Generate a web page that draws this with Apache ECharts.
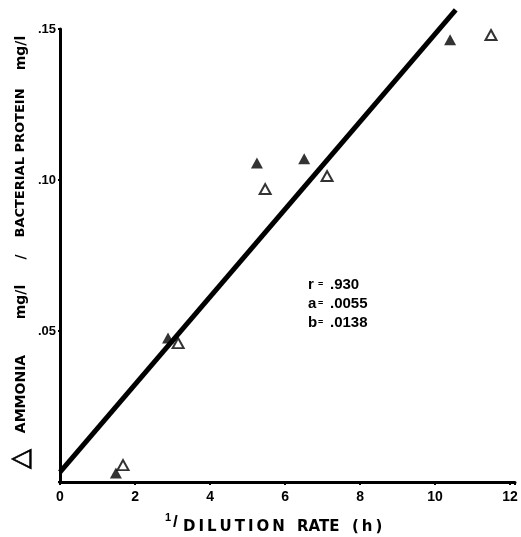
<!DOCTYPE html>
<html><head><meta charset="utf-8">
<script src="https://cdn.jsdelivr.net/npm/echarts@6/dist/echarts.min.js"></script>
<style>html,body{margin:0;padding:0;background:#fff}#c{width:521px;height:537px}</style>
</head><body><div id="c"></div>
<script>
var filledX = [1.49, 2.88, 5.25, 6.51, 10.4];
var filledY = [0.003, 0.0477, 0.1056, 0.107, 0.1464];
var openX = [1.68, 3.15, 5.47, 7.12, 11.49];
var openY = [0.0056, 0.046, 0.097, 0.1013, 0.148];
var fitX = [0, 10.55];
var fitY = [0.0033, 0.1563];
var xTicks = [0, 2, 4, 6, 8, 10, 12];
var yTickLabels = {'0.05': '.05', '0.1': '.10', '0.15': '.15'};
var statNames = ['r', 'a', 'b'];
var statValues = ['.930', '.0055', '.0138'];
var yTitleParts = ['△', 'AMMONIA', 'mg/l', '/', 'BACTERIAL PROTEIN', 'mg/l'];
var xTitleParts = ['1', '/', 'D\u2009I\u2009L\u2009U\u2009T\u2009I\u2009O\u2009N', 'RATE', '(\u2009h\u2009)'];

function pairs(xs, ys){ return xs.map(function(x,i){return [x, ys[i]];}); }
var F = 'Liberation Sans, Arial, sans-serif';
var D = 'DejaVu Sans';

var graphics = [];
var yCentres = [459, 394, 302, 257, 163, 53];
var ySizes = [26, 14, 14, 14, 13, 14];
yTitleParts.forEach(function(t, i){
  graphics.push({type:'text', x:21, y:yCentres[i], rotation:Math.PI/2,
    style:{text:t, fill:'#000', fontFamily:D, fontWeight:'bold',
      fontSize:ySizes[i], align:'center', verticalAlign:'middle',
      stroke: i===0 ? '#000' : null, lineWidth: i===0 ? 0.8 : 0}});
});
var xLefts = [165, 173, 183, 297, 352];
var xTops = [512, 514, 520, 520, 520];
var xSizes = [11, 17, 15, 15, 15];
xTitleParts.forEach(function(t, i){
  graphics.push({type:'text', x:xLefts[i], y:xTops[i],
    style:{text:t, fill:'#000', fontFamily: i<2 ? F : D, fontWeight:'bold',
      fontSize:xSizes[i], align:'left', verticalAlign: 'top'}});
});
var statY = [285, 304, 323];
statNames.forEach(function(n, i){
  graphics.push({type:'text', x:308, y:statY[i],
    style:{text:n, fill:'#000', fontFamily:F, fontWeight:'bold', fontSize:15, align:'left', verticalAlign:'middle'}});
  graphics.push({type:'text', x:318, y:statY[i],
    style:{text:'=', fill:'#000', fontFamily:F, fontWeight:'bold', fontSize:9, align:'left', verticalAlign:'middle'}});
  graphics.push({type:'text', x:330, y:statY[i],
    style:{text:statValues[i], fill:'#000', fontFamily:F, fontWeight:'bold', fontSize:15, align:'left', verticalAlign:'middle'}});
});

var chart = echarts.init(document.getElementById('c'));
chart.setOption({
  animation:false,
  backgroundColor:'#fff',
  grid:{left:60, right:6, top:29, bottom:55},
  xAxis:{type:'value', min:0, max:12.13, interval:2,
    axisLine:{lineStyle:{color:'#000', width:3}},
    axisTick:{show:true, length:3, lineStyle:{color:'#000', width:2}},
    splitLine:{show:false},
    axisLabel:{color:'#000', fontFamily:F, fontWeight:'bold', fontSize:14, margin:8,
      formatter:function(v){ return xTicks.indexOf(v)>=0 ? String(v) : ''; }}
  },
  yAxis:{type:'value', min:0, max:0.15, interval:0.05,
    axisLine:{lineStyle:{color:'#000', width:3}},
    axisTick:{show:true, length:2, lineStyle:{color:'#000', width:2}},
    splitLine:{show:false},
    axisLabel:{color:'#000', fontFamily:F, fontWeight:'bold', fontSize:13, margin:4,
      formatter:function(v){ var k=String(Math.round(v*100)/100); return yTickLabels[k]||''; }}
  },
  graphic:graphics,
  series:[
    {type:'line', data:pairs(fitX, fitY), symbol:'none', clip:false,
      lineStyle:{color:'#000', width:5}, z:2},
    {type:'scatter', data:pairs(filledX, filledY), symbol:'triangle', symbolSize:[12,11],
      itemStyle:{color:'#000'}, z:3},
    {type:'scatter', data:pairs(openX, openY), symbol:'triangle', symbolSize:[11,10],
      itemStyle:{color:'#fff', borderColor:'#000', borderWidth:2}, z:3}
  ]
});
</script></body></html>
